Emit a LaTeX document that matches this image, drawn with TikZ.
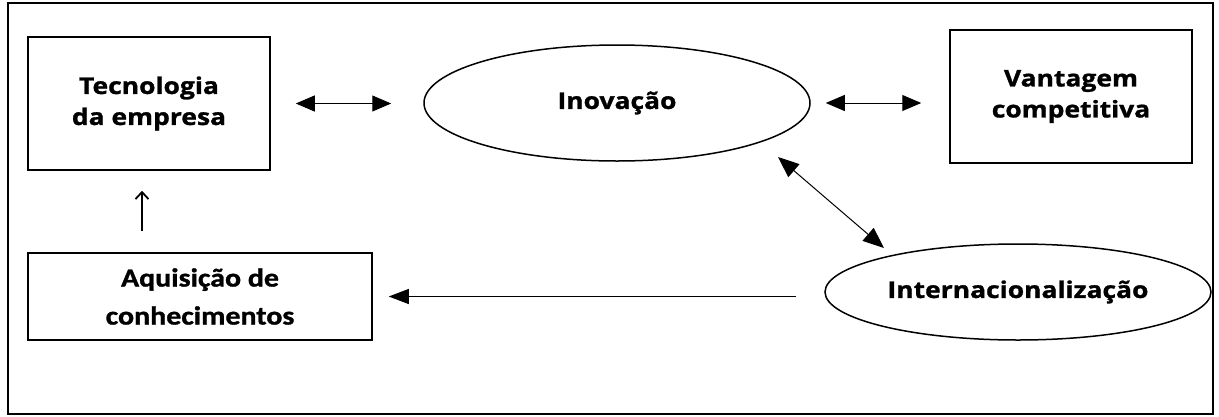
\documentclass[tikz,border=0pt]{standalone}
\usepackage{fontspec}
\usetikzlibrary{arrows.meta,calc,shapes.geometric}
\newfontfamily\osans{Open Sans}[FakeStretch=1.15,FakeBold=1.2]
\newfontfamily\carl{Carlito}[FakeStretch=1.15,FakeBold=1.2]
\begin{document}
\begin{tikzpicture}[x=1pt,y=-1pt,
  boxnode/.style={draw,line width=1.5pt,rectangle,inner sep=0pt,align=center},
  ellnode/.style={draw,line width=1.5pt,ellipse,inner sep=0pt,align=center},
  ostext/.style={font=\osans\bfseries\fontsize{23}{31}\selectfont},
  catext/.style={font=\carl\bfseries\fontsize{26}{38}\selectfont},
  dbl/.style={line width=1pt,{Triangle[length=19pt,width=16pt]}-{Triangle[length=19pt,width=16pt]}},
  dbld/.style={line width=1pt,{Triangle[length=21pt,width=17pt]}-{Triangle[length=21pt,width=17pt]}},
  sgl/.style={line width=1pt,-{Triangle[length=20pt,width=15pt]}},
  uparrow/.style={line width=1.8pt,-{Straight Barb[length=7pt,width=13pt,line width=1.8pt]}}]
\useasboundingbox (0,0) rectangle (1219,416);
\draw[line width=2pt] (8,3) rectangle (1213,414);
\node[boxnode,ostext,minimum width=242pt,minimum height=133pt] (tec) at (149,103.5) {Tecnologia\\da empresa};
\node[boxnode,ostext,minimum width=242pt,minimum height=133pt] (vant) at (1071,96.5) {Vantagem\\competitiva};
\node[boxnode,catext,minimum width=344pt,minimum height=87pt] (aq) at (200,296.5) {Aquisição de\\conhecimentos};
\node[ellnode,ostext,minimum width=386pt,minimum height=116pt] (inov) at (617,103) {Inovação};
\node[ellnode,ostext,minimum width=386pt,minimum height=96pt] (intl) at (1018,292) {Internacionalização};
\draw[dbl,shorten <=25pt,shorten >=32pt] (tec.east) -- (tec.east -| inov.west);
\draw[dbl,shorten <=15pt,shorten >=28pt] (inov.east) -- (inov.east -| vant.west);
\draw[dbld] ($(inov.center)+(161,54)$) -- ($(intl.center)+(-134,-44)$);
\draw[sgl,shorten <=28pt,shorten >=16pt] (intl.west |- aq.east) -- (aq.east);
\draw[uparrow,shorten <=21pt,shorten >=20pt] ([xshift=-7pt]tec.south |- aq.north) -- ([xshift=-7pt]tec.south);
\end{tikzpicture}
\end{document}
